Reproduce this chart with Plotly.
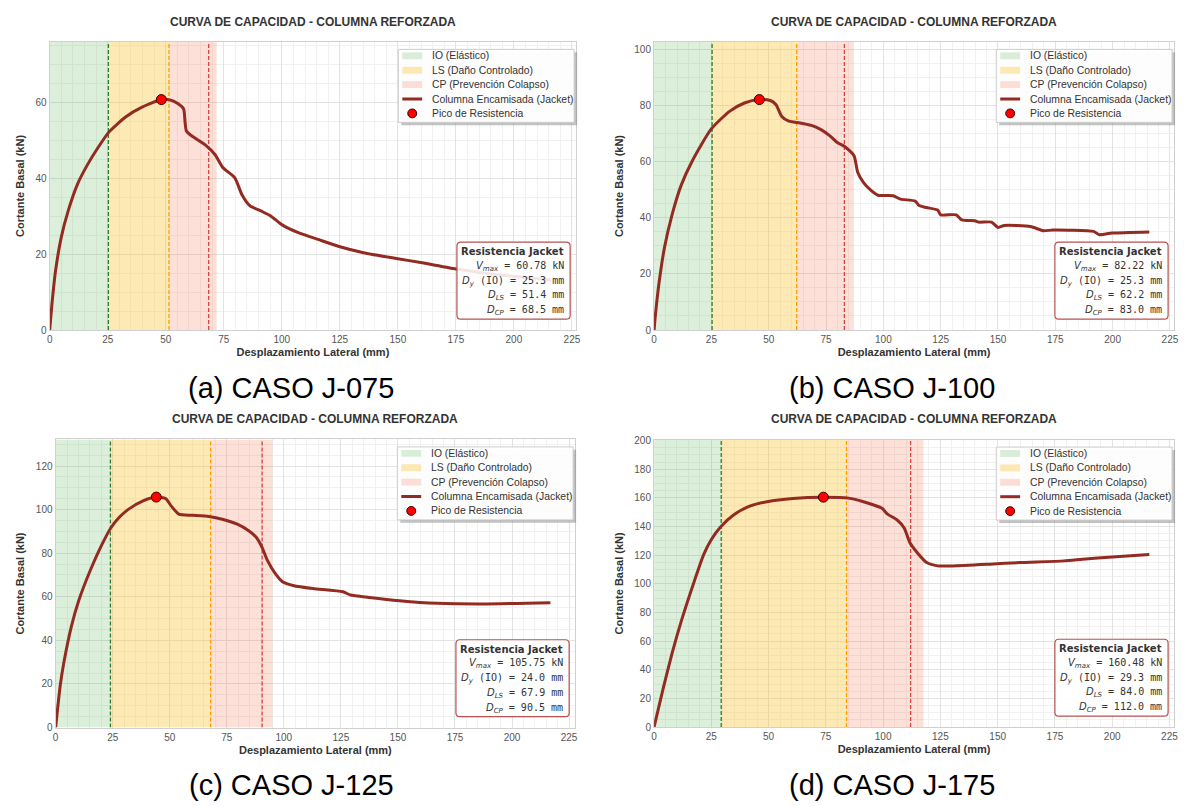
import plotly.graph_objects as go

W, H = 1188, 807

# ---------------- DATA ----------------
disp_a = [0, 1.0, 2.5, 5.0, 8.0, 12.0, 16.0, 20.5, 25.5, 32.7, 39.8, 48.1, 51.8, 55.0, 57.7, 58.3, 58.9, 60.5,
          66.9, 71.2, 74.7, 79.7, 82.9, 86.2, 91.0, 95.2, 100.0, 107.4, 115.6, 125.4, 135.2, 150.0,
          159.8, 176.0, 190.0, 204.0, 216.0]
shear_a = [0, 7.0, 15.5, 24.5, 31.5, 38.5, 43.3, 47.8, 52.2, 56.2, 58.8, 60.78, 60.7, 59.8, 58.3, 55.0, 52.5, 51.5,
           48.9, 46.3, 42.8, 40.2, 35.6, 32.8, 31.4, 30.1, 27.8, 25.6, 23.9, 21.9, 20.4, 18.8,
           17.8, 16.0, 14.8, 13.9, 13.2]

disp_b = [0, 0.5, 2.1, 4.5, 7.8, 11.8, 16.7, 24.8, 32.9, 39.4, 45.9, 50.7, 53.2, 55.6, 58.8, 63.7, 68.6,
          72.6, 76.7, 79.9, 83.1, 87.2, 88.8, 91.2, 94.5, 97.7, 104.2, 107.5, 113.9, 115.6, 118.8, 123.7,
          125.0, 131.8, 134.2, 139.9, 141.5, 147.2, 150.0, 152.8, 164.2, 169.9, 173.9, 191.7, 194.2,
          199.8, 216.0]
shear_b = [0, 4.7, 16.4, 29.3, 41.0, 51.6, 60.4, 71.6, 78.0, 81.0, 82.22, 81.9, 80.4, 76.3, 74.5, 73.9, 73.0,
           71.6, 69.3, 66.9, 65.5, 62.2, 56.3, 52.8, 49.9, 48.1, 47.9, 46.7, 46.0, 44.4, 43.7, 42.8,
           41.1, 41.1, 39.3, 39.0, 38.5, 38.5, 36.6, 37.3, 36.9, 35.4, 35.7, 35.2, 34.0,
           34.6, 35.0]

disp_c = [0, 0.7, 2.0, 3.6, 6.9, 10.2, 15.2, 20.2, 24.3, 28.0, 31.7, 38.3, 44.1, 48.2, 50.7, 54.0, 59.8, 67.2,
          73.0, 79.6, 84.6, 87.9, 90.4, 92.8, 96.2, 99.4, 104.4, 112.7, 125.9, 129.2, 137.4, 150.7,
          167.2, 187.0, 216.8]
shear_c = [0, 7.1, 19.2, 29.8, 46.4, 58.5, 72.2, 83.8, 91.8, 96.6, 100.0, 104.0, 105.75, 105.1, 101.6, 97.9, 97.4, 96.8,
           95.6, 93.3, 90.3, 87.3, 82.8, 76.7, 70.7, 66.9, 65.1, 63.8, 62.3, 60.8, 59.7, 58.2,
           57.0, 56.7, 57.3]

disp_d = [0, 3.9, 7.9, 12.0, 16.9, 21.7, 25.0, 29.2, 34.7, 41.2, 49.3, 60.6, 73.9, 84.9, 91.4, 99.5, 101.9,
          106.0, 109.2, 111.7, 114.9, 119.0, 123.8, 130.3, 146.5, 159.5, 178.9, 187.0, 200.0, 216.2]
shear_d = [0, 26.4, 51.7, 74.6, 98.7, 120.5, 130.9, 140.0, 148.0, 153.8, 157.3, 159.6, 160.48, 159.8, 157.3, 152.7, 148.6,
           144.7, 138.9, 128.6, 121.7, 114.8, 112.5, 112.5, 113.7, 114.8, 116.0, 117.1, 118.7, 120.5]

cases = ["(a) CASO J-075", "(b) CASO J-100", "(c) CASO J-125", "(d) CASO J-175"]
v_max = [60.78, 82.22, 105.75, 160.48]
d_peak = [48.1, 45.9, 44.1, 73.9]
d_y = [25.3, 25.3, 24.0, 29.3]
d_ls = [51.4, 62.2, 67.9, 84.0]
d_cp = [68.5, 83.0, 90.5, 112.0]
disps = [disp_a, disp_b, disp_c, disp_d]
shears = [shear_a, shear_b, shear_c, shear_d]

zone_names = ["IO (Elástico)", "LS (Daño Controlado)", "CP (Prevención Colapso)"]
curve_name = "Columna Encamisada (Jacket)"
peak_name = "Pico de Resistencia"

# ---------------- STYLE / LAYOUT ----------------
boxes = [(47, 577, 37.5, 329.5), (655.5, 1179, 37.5, 329.5),
         (53, 576, 440.5, 732.5), (655.5, 1179, 440.7, 732)]
cap_pos = [(290, 388), (895, 388), (290, 791), (895, 791)]
zone_cols = ["rgba(80,175,75,0.2)", "rgba(249,192,38,0.35)", "rgba(245,100,60,0.2)"]
line_cols = ["#2e7d32", "#ffa000", "#d64541"]

def px(x):
    return x / W

def py(y):
    return 1 - y / H

FONT = "Liberation Sans, Arial, sans-serif"
MONO = "DejaVu Sans Mono, monospace"
CURVE = "#922b21"

fig = go.Figure()
shapes = []
annots = []
layout_axes = {}

for i in range(4):
    sfx = "" if i == 0 else str(i + 1)
    xa, ya = "x" + sfx, "y" + sfx
    x0p, x1p, y0p, y1p = boxes[i]
    ymax = v_max[i] * 1.25
    xmax = max(disps[i]) * 1.05

    # zone bands
    limits = [(0, d_y[i]), (d_y[i], d_ls[i]), (d_ls[i], d_cp[i] * 1.05)]
    for (a, b), col, name in zip(limits, zone_cols, zone_names):
        fig.add_trace(go.Scatter(
            x=[a, b, b, a, a], y=[0, 0, ymax, ymax, 0], fill="toself", fillcolor=col,
            mode="none", name=name, xaxis=xa, yaxis=ya, showlegend=False, hoverinfo="skip"))
    # dashed limit lines
    for xv, col in zip([d_y[i], d_ls[i], d_cp[i]], line_cols):
        fig.add_trace(go.Scatter(
            x=[xv, xv], y=[0, ymax], mode="lines", line=dict(color=col, width=1.3, dash="4px,2px"),
            showlegend=False, xaxis=xa, yaxis=ya, hoverinfo="skip"))
    # capacity curve
    fig.add_trace(go.Scatter(
        x=disps[i], y=shears[i], mode="lines",
        line=dict(color=CURVE, width=3, shape="spline", smoothing=0.6),
        name=curve_name, xaxis=xa, yaxis=ya, showlegend=False))
    fig.add_trace(go.Scatter(
        x=[d_peak[i]], y=[v_max[i]], mode="markers",
        marker=dict(color="#ff0000", size=10, line=dict(color="#3a0000", width=1)),
        name=peak_name, xaxis=xa, yaxis=ya, showlegend=False))

    dom_x = [px(x0p), px(x1p)]
    dom_y = [py(y1p), py(y0p)]
    common = dict(showgrid=True, gridcolor="#e3e3e3", gridwidth=1,
                  minor=dict(dtick=5, showgrid=True, gridcolor="#f1f1f1", gridwidth=0.7),
                  showline=True, mirror=True, linecolor="#d0d0d0", linewidth=1.2, zeroline=False,
                  ticks="", tickfont=dict(family=FONT, size=10, color="#555555"), tick0=0)
    layout_axes["xaxis" + sfx] = dict(
        domain=dom_x, anchor=ya, range=[0, xmax], dtick=25,
        title=dict(text="<b>Desplazamiento Lateral (mm)</b>", standoff=4,
                   font=dict(family=FONT, size=11, color="#333333")), **common)
    layout_axes["yaxis" + sfx] = dict(
        domain=dom_y, anchor=xa, range=[0, ymax], dtick=20,
        title=dict(text="<b>Cortante Basal (kN)</b>", standoff=8,
                   font=dict(family=FONT, size=11, color="#333333")), **common)

    # title
    annots.append(dict(
        x=(dom_x[0] + dom_x[1]) / 2, y=py(y0p - 20.5), xref="paper", yref="paper",
        text="<b>CURVA DE CAPACIDAD - COLUMNA REFORZADA</b>", showarrow=False,
        xanchor="center", yanchor="middle", font=dict(family=FONT, size=12, color="#333333")))
    # caption
    cx, cy = cap_pos[i]
    annots.append(dict(
        x=px(cx), y=py(cy), xref="paper", yref="paper", text=cases[i], showarrow=False,
        xanchor="center", yanchor="middle", font=dict(family=FONT, size=29, color="#000000")))

    # ---- legend (drawn in the plot's upper-right corner) ----
    lx1 = x1p - 2
    lx0 = lx1 - 177
    ly0 = y0p + 7.5
    ly1 = ly0 + 74
    shapes.append(dict(type="rect", xref="paper", yref="paper",
                       x0=px(lx0 + 3), x1=px(lx1 + 3), y0=py(ly1 + 3), y1=py(ly0 + 3),
                       fillcolor="rgba(120,120,120,0.45)", line=dict(width=0), layer="above"))
    shapes.append(dict(type="rect", xref="paper", yref="paper",
                       x0=px(lx0), x1=px(lx1), y0=py(ly1), y1=py(ly0),
                       fillcolor="rgba(255,255,255,0.96)", line=dict(color="#cccccc", width=1),
                       layer="above"))
    rows = [ly0 + 6.5 + 14.6 * k for k in range(5)]
    sw0, sw1 = lx0 + 4, lx0 + 24
    for k in range(3):
        shapes.append(dict(type="rect", xref="paper", yref="paper",
                           x0=px(sw0), x1=px(sw1), y0=py(rows[k] + 3.5), y1=py(rows[k] - 3.5),
                           fillcolor=zone_cols[k], line=dict(width=0), layer="above"))
    shapes.append(dict(type="line", xref="paper", yref="paper",
                       x0=px(sw0), x1=px(sw1), y0=py(rows[3]), y1=py(rows[3]),
                       line=dict(color=CURVE, width=3), layer="above"))
    shapes.append(dict(type="circle", xref="paper", yref="paper",
                       x0=px(sw0 + 5.5), x1=px(sw0 + 14.5), y0=py(rows[4] + 4.5), y1=py(rows[4] - 4.5),
                       fillcolor="#ff0000", line=dict(color="#3a0000", width=1), layer="above"))
    for k, t in enumerate(zone_names + [curve_name, peak_name]):
        annots.append(dict(
            x=px(lx0 + 32), y=py(rows[k]), xref="paper", yref="paper", text=t, showarrow=False,
            xanchor="left", yanchor="middle", font=dict(family=FONT, size=10.4, color="#333333")))

    # ---- info box ----
    bx1 = x1p - 6
    by1 = y1p - 11
    bx0 = bx1 - 114
    by0 = by1 - 78
    r = 4
    path = (f"M {px(bx0 + r)},{py(by0)} L {px(bx1 - r)},{py(by0)} "
            f"Q {px(bx1)},{py(by0)} {px(bx1)},{py(by0 + r)} L {px(bx1)},{py(by1 - r)} "
            f"Q {px(bx1)},{py(by1)} {px(bx1 - r)},{py(by1)} L {px(bx0 + r)},{py(by1)} "
            f"Q {px(bx0)},{py(by1)} {px(bx0)},{py(by1 - r)} L {px(bx0)},{py(by0 + r)} "
            f"Q {px(bx0)},{py(by0)} {px(bx0 + r)},{py(by0)} Z")
    shapes.append(dict(type="path", path=path, xref="paper", yref="paper",
                       fillcolor="rgba(255,255,255,0.88)", line=dict(color="#b5524f", width=1.2),
                       layer="above"))
    it = lambda s: f'<span style="font-family:DejaVu Sans"><i>{s}</i></span>'
    lines = [
        '<span style="font-family:DejaVu Sans"><b>Resistencia Jacket</b></span>',
        f'{it("V<sub>max</sub>")} = {v_max[i]:.2f} kN',
        f'{it("D<sub>y</sub>")} (IO) = {d_y[i]:.1f} mm',
        f'{it("D<sub>LS</sub>")} = {d_ls[i]:.1f} mm',
        f'{it("D<sub>CP</sub>")} = {d_cp[i]:.1f} mm',
    ]
    for k, t in enumerate(lines):
        annots.append(dict(
            x=px(bx1 - 4), y=py(by0 + 9.5 + 15 * k), xref="paper", yref="paper", text=t,
            showarrow=False, xanchor="right", yanchor="middle",
            font=dict(family=MONO, size=10, color="#333333")))

fig.update_layout(
    width=W, height=H, autosize=False, margin=dict(l=0, r=0, t=0, b=0),
    paper_bgcolor="white", plot_bgcolor="white", showlegend=False,
    shapes=shapes, annotations=annots, **layout_axes)

fig.write_html("out.html")
